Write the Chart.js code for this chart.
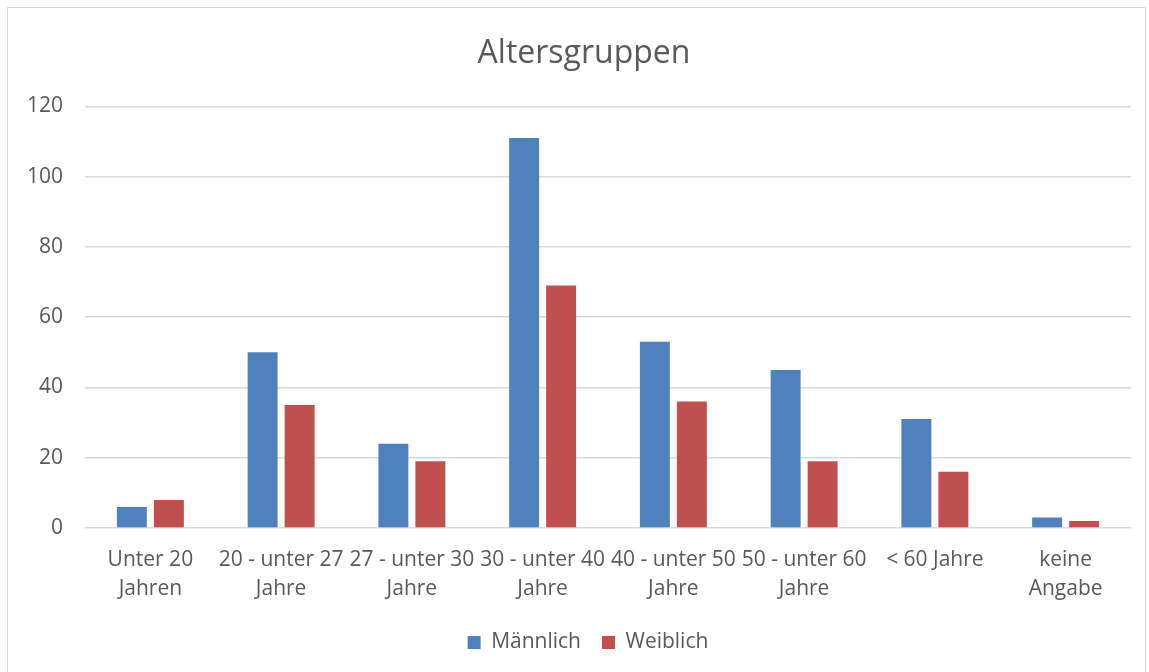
<!DOCTYPE html>
<html><head><meta charset="utf-8">
<script src="https://cdn.jsdelivr.net/npm/chart.js@4"></script>
<style>
html,body{margin:0;padding:0;background:#fff;}
#wrap{position:absolute;left:0;top:0;width:1149px;height:672px;}
#frame{position:absolute;left:7px;top:7px;width:1139px;height:680px;border:1px solid #d9d9d9;box-sizing:border-box;}
canvas{position:absolute;left:0;top:0;}
</style></head>
<body>
<div id="wrap"><div id="frame"></div><canvas id="c" width="1149" height="672"></canvas></div>
<script>
const categories = [["Unter 20","Jahren"],["20 - unter 27","Jahre"],["27 - unter 30","Jahre"],["30 - unter 40","Jahre"],["40 - unter 50","Jahre"],["50 - unter 60","Jahre"],["< 60 Jahre"],["keine","Angabe"]];
const maennlich = [6, 50, 24, 111, 53, 45, 31, 3];
const weiblich = [8, 35, 19, 69, 36, 19, 16, 2];
const titleText = "Altersgruppen";
const fontFam = "'Open Sans', sans-serif";
const textColor = "#595959";
const shiftBoxes = {
  id: 'shiftBoxes',
  afterLayout(chart) {
    if (chart.legend) { chart.legend.left += 19; chart.legend.right += 19; }
    if (chart.titleBlock) { chart.titleBlock.left += 15; chart.titleBlock.right += 15; }
  }
};
new Chart(document.getElementById('c'), {
  type: 'bar',
  data: {
    labels: categories,
    datasets: [
      {label: 'Männlich', data: maennlich, backgroundColor: '#4F81BD', barPercentage: 0.81, categoryPercentage: 0.566},
      {label: 'Weiblich', data: weiblich, backgroundColor: '#C0504D', barPercentage: 0.81, categoryPercentage: 0.566}
    ]
  },
  plugins: [shiftBoxes],
  options: {
    responsive: false,
    animation: false,
    layout: {padding: {left: 7, right: 18, top: 27, bottom: 9}},
    plugins: {
      title: {display: true, text: titleText, color: textColor, font: {family: fontFam, size: 32, weight: 'normal'}, padding: {top: 8, bottom: 33}},
      legend: {position: 'bottom', labels: {color: textColor, font: {family: fontFam, size: 21}, boxWidth: 13, boxHeight: 13, padding: 21}},
      tooltip: {enabled: false}
    },
    scales: {
      x: {
        grid: {display: false},
        border: {display: false},
        ticks: {color: textColor, font: {family: fontFam, size: 21, lineHeight: 1.38}, maxRotation: 0, autoSkip: false, padding: 10},
        afterFit: (s) => { s.height = 83; }
      },
      y: {
        min: 0, max: 120,
        ticks: {stepSize: 20, color: textColor, font: {family: fontFam, size: 21}, padding: 22},
        grid: {color: '#d9d9d9', lineWidth: 1.5, drawTicks: false},
        border: {display: false},
        afterFit: (s) => { s.width = 78; }
      }
    }
  }
});
</script>
</body></html>
